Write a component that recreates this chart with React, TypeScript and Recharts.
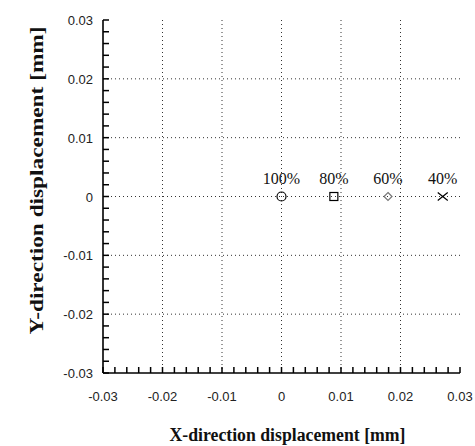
import {
  ScatterChart,
  Scatter,
  XAxis,
  YAxis,
  ReferenceLine,
  LabelList,
  Label,
} from "recharts";

const loadNames = ["100%", "80%", "60%", "40%"];
const xDisp = [0, 0.0088, 0.0179, 0.0271];
const yDisp = [0, 0, 0, 0];

const majorTicks = [-0.03, -0.02, -0.01, 0, 0.01, 0.02, 0.03];
const tickLabels = ["-0.03", "-0.02", "-0.01", "0", "0.01", "0.02", "0.03"];
const gridTicks = [-0.02, -0.01, 0, 0.01, 0.02];
const minorTicks = [
  -0.03, -0.028, -0.026, -0.024, -0.022, -0.02, -0.018, -0.016, -0.014, -0.012,
  -0.01, -0.008, -0.006, -0.004, -0.002, 0, 0.002, 0.004, 0.006, 0.008, 0.01,
  0.012, 0.014, 0.016, 0.018, 0.02, 0.022, 0.024, 0.026, 0.028, 0.03,
];

const LO = -0.03;
const HI = 0.03;
const DOMAIN: [number, number] = [LO, HI];
const TICK = -6; // negative size -> tick marks point into the plot
const tickFont = { fontFamily: "Liberation Sans, Arial, sans-serif", fontSize: 13, fill: "#222" };
const titleFont = { fontFamily: "Liberation Serif, Times New Roman, serif", fontSize: 18, fontWeight: 700, fill: "#111" };

function majorIndex(v: number) {
  return majorTicks.findIndex((m) => Math.abs(m - v) < 1e-9);
}

function makeTick(side: "bottom" | "left" | "none") {
  return (props: any) => {
    const { x, y, payload } = props;
    const i = majorIndex(payload.value);
    if (i < 0 || side === "none") return <g />;
    if (side === "bottom")
      return (
        <text x={x} y={y - TICK + 28} textAnchor="middle" {...tickFont}>
          {tickLabels[i]}
        </text>
      );
    return (
      <text x={x + TICK - 10} y={y + 5} textAnchor="end" {...tickFont}>
        {tickLabels[i]}
      </text>
    );
  };
}

const circleShape = (p: any) => (
  <circle cx={p.cx} cy={p.cy} r={4.5} fill="none" stroke="#000" strokeWidth={1.2} />
);
const squareShape = (p: any) => (
  <rect x={p.cx - 4} y={p.cy - 4} width={8} height={8} fill="none" stroke="#000" strokeWidth={1.2} />
);
const diamondShape = (p: any) => (
  <path
    d={`M${p.cx},${p.cy - 4}L${p.cx + 4},${p.cy}L${p.cx},${p.cy + 4}L${p.cx - 4},${p.cy}Z`}
    fill="none"
    stroke="#777"
    strokeWidth={1.2}
  />
);
const crossShape = (p: any) => (
  <path
    d={`M${p.cx - 5},${p.cy - 4}L${p.cx + 5},${p.cy + 4}M${p.cx - 5},${p.cy + 4}L${p.cx + 5},${p.cy - 4}`}
    stroke="#000"
    strokeWidth={1.2}
  />
);
const shapes = [circleShape, squareShape, diamondShape, crossShape];

const renderYTitle = (props: any) => {
  const vb = props.viewBox;
  const cx = vb.x + 36;
  const cy = vb.y + vb.height / 2 - 16;
  return (
    <text
      x={cx}
      y={cy}
      textAnchor="middle"
      transform={`rotate(-90 ${cx} ${cy})`}
      dy={7}
      textLength={308}
      lengthAdjust="spacingAndGlyphs"
      {...titleFont}
      fontSize={19}
    >
      Y-direction displacement [mm]
    </text>
  );
};

const renderXTitle = (props: any) => {
  const vb = props.viewBox;
  const cx = vb.x + vb.width / 2 + 6;
  return (
    <text
      x={cx}
      y={vb.y + 68}
      textAnchor="middle"
      textLength={236}
      lengthAdjust="spacingAndGlyphs"
      {...titleFont}
    >
      X-direction displacement [mm]
    </text>
  );
};

const frameLine = { stroke: "#000", strokeWidth: 1.6 };
const tickLineStyle = { stroke: "#000", strokeWidth: 1.5 };

export default function App() {
  return (
    <div style={{ position: "absolute", left: 0, top: 0, background: "#fff" }}>
      <ScatterChart width={475} height={446} margin={{ top: 20, right: 15, bottom: 0, left: 0 }}>
        <XAxis
          type="number"
          dataKey="x"
          domain={DOMAIN}
          ticks={minorTicks}
          interval={0}
          allowDataOverflow
          height={73}
          tickSize={TICK}
          tickMargin={0}
          tickLine={tickLineStyle}
          axisLine={frameLine}
          tick={makeTick("bottom")}
        >
          <Label content={renderXTitle} />
        </XAxis>
        <XAxis
          xAxisId="top"
          orientation="top"
          type="number"
          dataKey="x"
          domain={DOMAIN}
          ticks={minorTicks}
          interval={0}
          allowDataOverflow
          height={0}
          tickSize={TICK}
          tickMargin={0}
          tickLine={tickLineStyle}
          axisLine={frameLine}
          tick={makeTick("none")}
        />
        <YAxis
          type="number"
          dataKey="y"
          domain={DOMAIN}
          ticks={minorTicks}
          interval={0}
          allowDataOverflow
          width={103}
          tickSize={TICK}
          tickMargin={0}
          tickLine={tickLineStyle}
          axisLine={frameLine}
          tick={makeTick("left")}
        >
          <Label content={renderYTitle} />
        </YAxis>
        <YAxis
          yAxisId="right"
          orientation="right"
          type="number"
          dataKey="y"
          domain={DOMAIN}
          ticks={minorTicks}
          interval={0}
          allowDataOverflow
          width={0}
          tickSize={TICK}
          tickMargin={0}
          tickLine={tickLineStyle}
          axisLine={frameLine}
          tick={makeTick("none")}
        />
        {gridTicks.map((v) => (
          <ReferenceLine key={`gx${v}`} x={v} stroke="#333" strokeDasharray="1 3" />
        ))}
        {gridTicks.map((v) => (
          <ReferenceLine key={`gy${v}`} y={v} stroke="#333" strokeDasharray="1 3" />
        ))}
        {loadNames.map((name, i) => (
          <Scatter
            key={name}
            name={name}
            data={[{ x: xDisp[i], y: yDisp[i], label: name }]}
            shape={shapes[i]}
            isAnimationActive={false}
          >
            <LabelList
              dataKey="label"
              position="top"
              offset={8}
              style={{ fontFamily: "Liberation Serif, Times New Roman, serif", fontSize: 16, fill: "#111" }}
            />
          </Scatter>
        ))}
      </ScatterChart>
    </div>
  );
}
